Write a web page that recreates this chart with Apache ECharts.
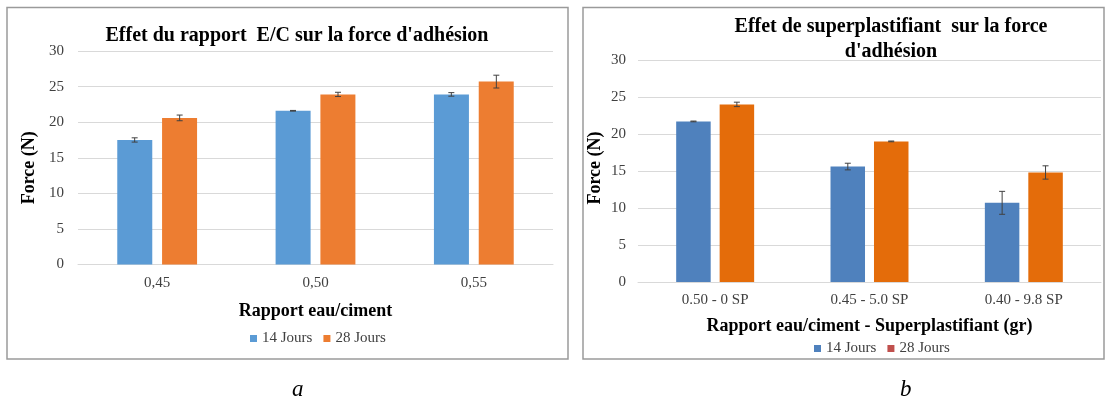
<!DOCTYPE html>
<html>
<head>
<meta charset="utf-8">
<script src="https://cdn.jsdelivr.net/npm/echarts@6/dist/echarts.min.js"></script>
<style>
html,body{margin:0;padding:0;background:#fff;}
#c{width:1109px;height:402px;}
</style>
</head>
<body>
<div id="c"></div>
<script>
// ---- Data (chart a) ----
const categoriesA = ['0,45', '0,50', '0,55'];
const jours14A = [17.5, 21.6, 23.9];
const jours28A = [20.6, 23.9, 25.7];
const err14A = [0.3, 0.05, 0.25];
const err28A = [0.4, 0.3, 0.9];
// ---- Data (chart b) ----
const categoriesB = ['0.50 - 0 SP', '0.45 - 5.0 SP', '0.40 - 9.8 SP'];
const jours14B = [21.7, 15.6, 10.7];
const jours28B = [24.0, 19.0, 14.8];
const err14B = [0.05, 0.45, 1.55];
const err28B = [0.3, 0.05, 0.9];
// ---- Labels ----
const seriesNames = ['14 Jours', '28 Jours'];
const titleA = "Effet du rapport  E/C sur la force d'adhésion";
const titleB = "Effet de superplastifiant  sur la force\nd'adhésion";
const xNameA = 'Rapport eau/ciment';
const xNameB = 'Rapport eau/ciment - Superplastifiant (gr)';
const yName = 'Force (N)';

const FONT = '"Liberation Serif", "Times New Roman", serif';
const colA = ['#5B9BD5', '#ED7D31'];
const colB = ['#4F81BD', '#E46C0A'];

function errData(vals, errs) { return vals.map((v, i) => [i, v - errs[i], v + errs[i]]); }
function errRender(offset) {
  return function (params, api) {
    const i = api.value(0);
    const lo = api.coord([i, api.value(1)]);
    const hi = api.coord([i, api.value(2)]);
    const x = lo[0] + offset, hw = 3;
    const st = { stroke: '#404040', lineWidth: 1 };
    return { type: 'group', children: [
      { type: 'line', shape: { x1: x, y1: lo[1], x2: x, y2: hi[1] }, style: st },
      { type: 'line', shape: { x1: x - hw, y1: lo[1], x2: x + hw, y2: lo[1] }, style: st },
      { type: 'line', shape: { x1: x - hw, y1: hi[1], x2: x + hw, y2: hi[1] }, style: st }
    ]};
  };
}

function yAxis(gi, margin, gap, pad) {
  return {
    type: 'value', gridIndex: gi, min: 0, max: 30, interval: 5,
    name: yName, nameLocation: 'middle', nameGap: gap, nameRotate: 90,
    nameTextStyle: { fontFamily: FONT, fontWeight: 'bold', fontSize: 18, color: '#000', padding: pad },
    axisLine: { show: false }, axisTick: { show: false },
    axisLabel: { fontFamily: FONT, fontSize: 15, color: '#404040', margin: margin },
    splitLine: { lineStyle: { color: '#d9d9d9', width: 1 } }
  };
}
function xAxis(gi, cats, name, gap, margin, fs) {
  return {
    type: 'category', gridIndex: gi, data: cats,
    name: name, nameLocation: 'middle', nameGap: gap,
    nameTextStyle: { fontFamily: FONT, fontWeight: 'bold', fontSize: 18, color: '#000' },
    axisLine: { lineStyle: { color: '#d9d9d9', width: 1 } }, axisTick: { show: false },
    axisLabel: { fontFamily: FONT, fontSize: fs, color: '#404040', margin: margin }
  };
}

const chart = echarts.init(document.getElementById('c'), null, { renderer: 'canvas' });
chart.setOption({
  animation: false,
  backgroundColor: '#fff',
  title: [
    { text: titleA, left: 292, top: 21, textAlign: 'center',
      textStyle: { fontFamily: FONT, fontWeight: 'bold', fontSize: 20, color: '#000' } },
    { text: titleB, left: 886, top: 9, textAlign: 'center',
      textStyle: { fontFamily: FONT, fontWeight: 'bold', fontSize: 20, color: '#000', lineHeight: 25 } }
  ],
  grid: [
    { left: 78, top: 51, width: 475, height: 213.5 },
    { left: 638, top: 60, width: 463, height: 222 }
  ],
  xAxis: [xAxis(0, categoriesA, xNameA, 38, 11, 15), xAxis(1, categoriesB, xNameB, 35, 11, 15)],
  yAxis: [yAxis(0, 14, 40, [0, 20, 0, 0]), yAxis(1, 12, 34, [0, 0, 0, 6])],
  legend: [
    { left: 245, top: 326, itemWidth: 7, itemHeight: 7, itemGap: 11, icon: 'rect', selectedMode: false,
      textStyle: { fontFamily: FONT, fontSize: 15, color: '#404040' },
      data: [{ name: seriesNames[0], itemStyle: { color: colA[0] } }, { name: seriesNames[1], itemStyle: { color: colA[1] } }] },
    { left: 809, top: 336, itemWidth: 7, itemHeight: 7, itemGap: 11, icon: 'rect', selectedMode: false,
      textStyle: { fontFamily: FONT, fontSize: 15, color: '#404040' },
      data: [{ name: seriesNames[0], itemStyle: { color: colB[0] } }, { name: seriesNames[1], itemStyle: { color: '#C0504D' } }] }
  ],
  series: [
    { type: 'bar', name: seriesNames[0], xAxisIndex: 0, yAxisIndex: 0, data: jours14A, barWidth: 35, barGap: '28%', itemStyle: { color: colA[0] } },
    { type: 'bar', name: seriesNames[1], xAxisIndex: 0, yAxisIndex: 0, data: jours28A, barWidth: 35, barGap: '28%', itemStyle: { color: colA[1] } },
    { type: 'custom', xAxisIndex: 0, yAxisIndex: 0, data: errData(jours14A, err14A), renderItem: errRender(-22.5), encode: { x: 0, y: [1, 2] }, z: 10 },
    { type: 'custom', xAxisIndex: 0, yAxisIndex: 0, data: errData(jours28A, err28A), renderItem: errRender(22.5), encode: { x: 0, y: [1, 2] }, z: 10 },
    { type: 'bar', name: seriesNames[0], xAxisIndex: 1, yAxisIndex: 1, data: jours14B, barWidth: 34.5, barGap: '26%', itemStyle: { color: colB[0] } },
    { type: 'bar', name: seriesNames[1], xAxisIndex: 1, yAxisIndex: 1, data: jours28B, barWidth: 34.5, barGap: '26%', itemStyle: { color: colB[1] } },
    { type: 'custom', xAxisIndex: 1, yAxisIndex: 1, data: errData(jours14B, err14B), renderItem: errRender(-21.7), encode: { x: 0, y: [1, 2] }, z: 10 },
    { type: 'custom', xAxisIndex: 1, yAxisIndex: 1, data: errData(jours28B, err28B), renderItem: errRender(21.7), encode: { x: 0, y: [1, 2] }, z: 10 }
  ],
  graphic: [
    { type: 'rect', shape: { x: 7, y: 7.5, width: 561, height: 351.5 }, style: { fill: null, stroke: '#9a9a9a', lineWidth: 1.5 }, silent: true },
    { type: 'rect', shape: { x: 583, y: 7.5, width: 521, height: 351.5 }, style: { fill: null, stroke: '#9a9a9a', lineWidth: 1.5 }, silent: true },
    { type: 'text', left: 292, top: 378, style: { text: 'a', font: 'italic 23px "Liberation Serif", serif', fill: '#000' } },
    { type: 'text', left: 900, top: 378, style: { text: 'b', font: 'italic 23px "Liberation Serif", serif', fill: '#000' } }
  ]
});
</script>
</body>
</html>
